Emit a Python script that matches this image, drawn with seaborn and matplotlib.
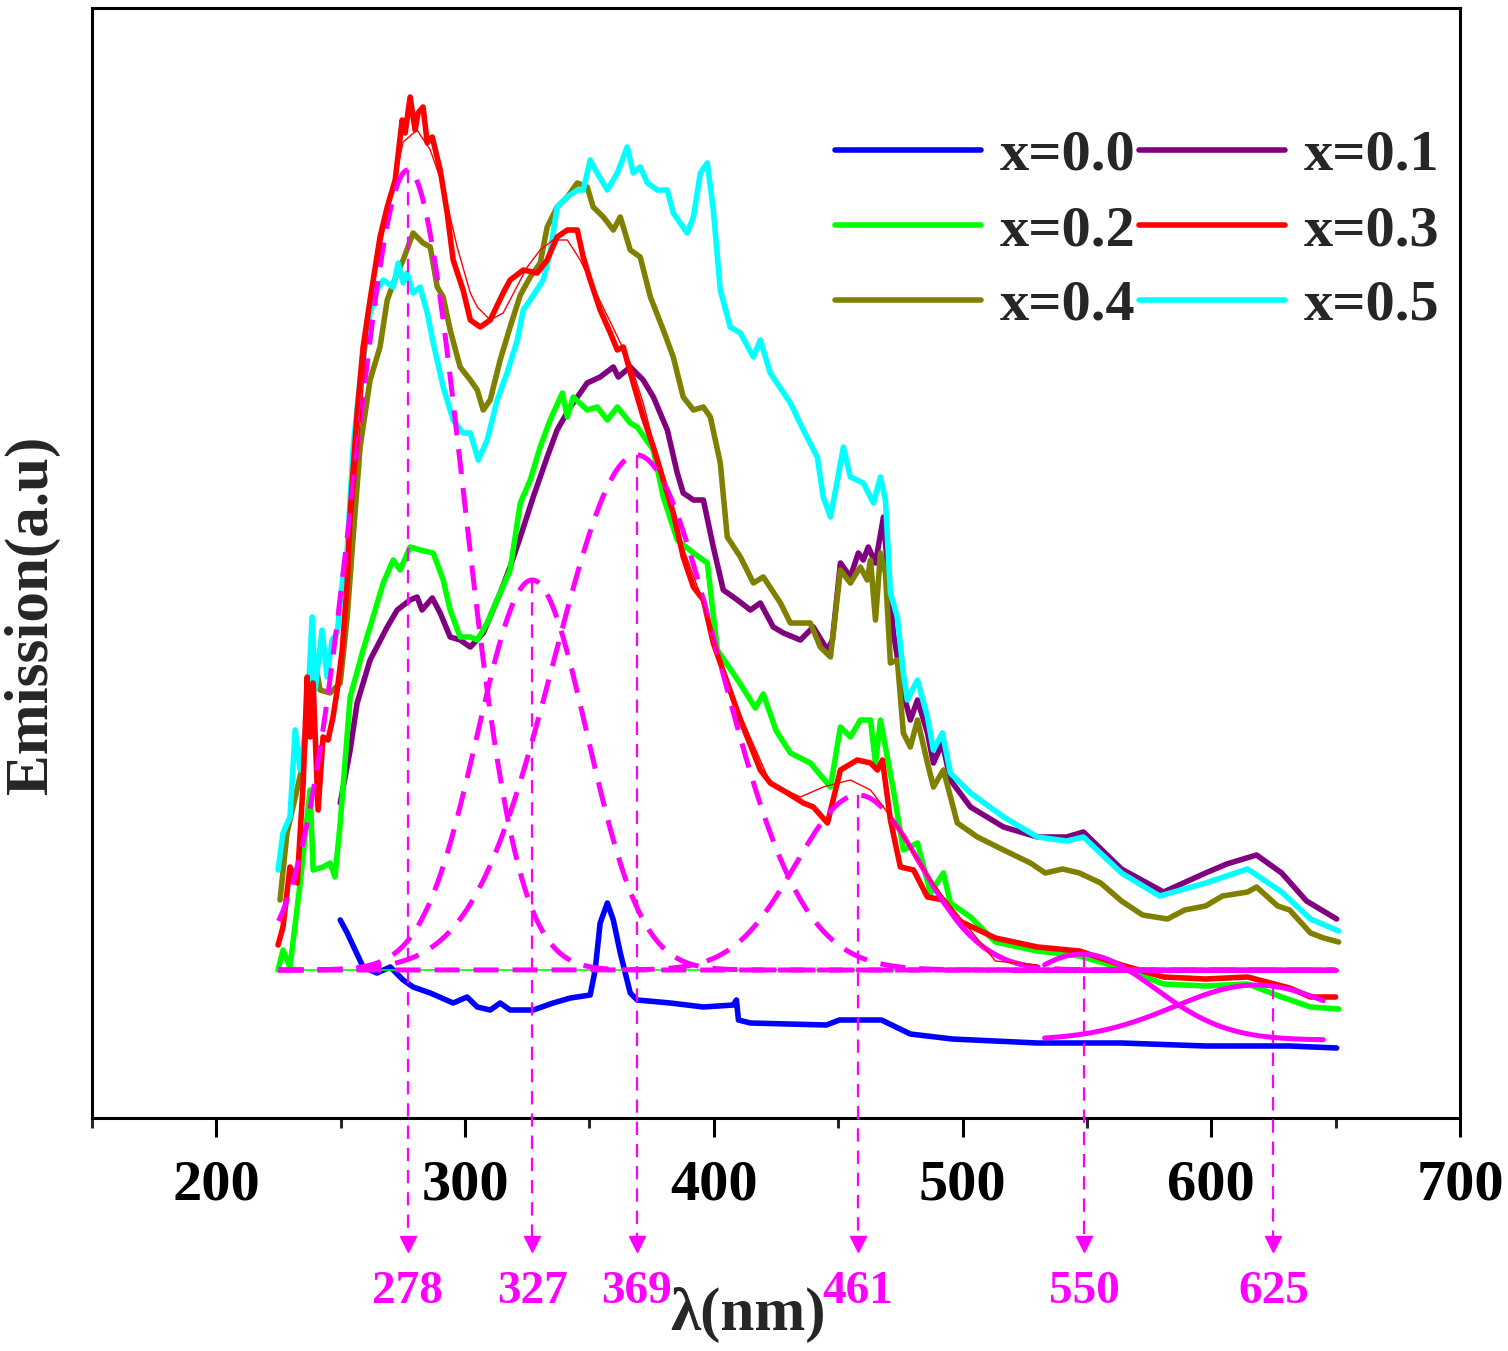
import numpy as np
import pandas as pd
import matplotlib
matplotlib.use("Agg")
import matplotlib.pyplot as plt
import seaborn as sns
from matplotlib.lines import Line2D
from matplotlib.ticker import MultipleLocator

# ---------------- data ----------------
wl_00 = [249.8, 252.6, 259.0, 264.6, 269.9, 275.1, 279.1, 286.0, 295.2, 300.8, 304.9, 310.1,
         314.1, 318.1, 327.4, 335.4, 342.3, 350.3, 352.3, 354.3, 357.2, 359.6, 362.4, 366.4,
         369.2, 382.5, 395.8, 407.8, 409.1, 409.9, 414.7, 445.3, 450.5, 467.4, 479.0, 495.9,
         530.1, 563.9, 597.7, 631.5, 650.4]
em_00 = [19.8, 18.5, 15.1, 14.5, 15.1, 13.8, 13.1, 12.5, 11.5, 12.1, 11.1, 10.8,
         11.5, 10.8, 10.8, 11.5, 12.0, 12.3, 14.8, 19.5, 21.5, 19.8, 16.5, 12.5,
         11.8, 11.5, 11.1, 11.3, 11.8, 9.8, 9.5, 9.3, 9.8, 9.8, 8.4, 7.9,
         7.5, 7.5, 7.2, 7.2, 7.0]

wl_01 = [249.8, 253.8, 256.6, 261.8, 268.7, 272.7, 277.9, 280.7, 282.7, 286.8, 290.0, 294.0,
         298.0, 302.1, 307.3, 314.1, 318.1, 322.2, 327.4, 333.0, 337.0, 342.3, 349.1, 354.3,
         359.6, 361.6, 366.4, 371.6, 375.7, 381.3, 385.3, 387.7, 391.8, 395.8, 399.8, 403.8,
         409.5, 414.7, 418.7, 423.9, 428.0, 434.8, 440.0, 445.7, 447.7, 450.9, 454.9, 458.1,
         460.1, 462.1, 465.0, 468.2, 469.8, 472.2, 476.2, 479.0, 481.9, 485.9, 488.3, 491.9,
         495.1, 503.2, 516.5, 530.1, 541.8, 548.6, 563.9, 580.8, 597.7, 606.2, 618.2, 628.3,
         638.3, 650.4]
em_01 = [31.5, 36.8, 41.5, 45.8, 49.1, 50.8, 51.8, 52.1, 50.8, 52.0, 50.5, 48.1,
         47.8, 47.1, 48.5, 52.5, 55.1, 58.1, 62.1, 66.1, 68.8, 71.1, 73.5, 74.1,
         75.1, 74.1, 75.1, 73.8, 72.1, 68.8, 64.5, 62.5, 61.8, 61.8, 57.1, 52.8,
         51.8, 50.8, 51.5, 49.1, 48.5, 47.8, 49.1, 46.8, 47.8, 55.5, 54.1, 56.5,
         55.8, 57.1, 55.5, 60.1, 55.1, 48.5, 42.5, 39.8, 41.8, 38.5, 35.5, 37.5,
         33.8, 31.1, 29.1, 28.1, 28.1, 28.6, 24.9, 22.6, 24.5, 25.4, 26.3, 24.5,
         21.7, 19.9]

wl_02 = [224.8, 226.8, 229.6, 233.7, 236.5, 237.7, 238.9, 242.9, 245.7, 247.7, 249.8, 253.8,
         259.0, 261.8, 267.1, 271.1, 273.9, 277.9, 281.9, 287.2, 291.2, 294.0, 298.0, 302.1,
         304.9, 308.9, 314.1, 318.1, 322.2, 326.2, 330.2, 334.2, 339.1, 341.1, 343.5, 349.1,
         353.1, 357.2, 361.2, 366.4, 369.2, 375.7, 379.7, 385.3, 391.8, 397.4, 401.4, 409.9,
         416.7, 419.9, 425.1, 430.8, 438.8, 446.9, 450.9, 454.9, 458.9, 463.0, 465.0, 467.0,
         472.2, 476.2, 481.9, 487.1, 492.3, 495.1, 503.2, 513.2, 530.1, 547.0, 563.9, 580.8,
         597.7, 614.6, 628.3, 639.9, 651.2]
em_02 = [14.8, 16.8, 15.1, 23.5, 30.1, 32.8, 24.8, 25.1, 25.5, 24.1, 29.5, 42.1,
         46.8, 49.1, 53.5, 55.8, 54.8, 57.1, 56.8, 56.5, 53.8, 50.8, 48.1, 48.1,
         47.8, 49.5, 52.5, 54.8, 61.5, 63.8, 67.1, 69.8, 72.5, 70.1, 72.1, 70.8,
         71.1, 69.8, 71.1, 69.5, 69.1, 66.8, 62.1, 57.8, 56.5, 55.5, 46.8, 43.7,
         41.0, 42.4, 38.7, 36.5, 35.5, 33.1, 39.1, 38.1, 39.8, 39.8, 35.5, 39.8,
         32.8, 26.8, 27.5, 22.5, 24.5, 21.5, 20.1, 17.6, 16.7, 16.2, 15.0, 13.4,
         13.2, 13.4, 12.1, 11.1, 10.9]

wl_03 = [224.8, 226.8, 229.6, 232.5, 234.9, 236.5, 237.7, 238.9, 240.9, 242.9, 244.9, 246.9,
         248.6, 250.6, 252.6, 253.8, 256.6, 259.0, 261.8, 265.8, 268.7, 271.9, 274.7, 275.9,
         277.9, 279.9, 281.1, 283.1, 284.8, 286.8, 290.0, 292.8, 295.2, 299.2, 302.1, 306.1,
         310.1, 315.3, 318.1, 323.4, 329.0, 333.0, 337.0, 341.1, 345.1, 347.5, 350.3, 354.3,
         358.4, 361.2, 363.6, 367.6, 371.6, 375.7, 379.7, 383.7, 387.7, 391.8, 395.8, 399.8,
         410.7, 418.7, 422.7, 429.6, 436.0, 440.0, 445.7, 450.9, 457.7, 463.0, 465.8, 467.8,
         471.0, 475.0, 480.3, 485.9, 492.3, 497.9, 513.2, 530.1, 547.0, 563.9, 580.8, 597.7,
         614.6, 631.5, 639.9, 650.0]
em_03 = [17.3, 19.1, 25.1, 23.5, 33.5, 44.1, 38.1, 43.5, 30.8, 38.1, 37.8, 40.1,
         42.8, 46.8, 53.5, 60.5, 70.5, 77.1, 81.8, 88.1, 91.1, 93.8, 99.8, 98.5,
         102.1, 98.8, 100.5, 101.1, 97.5, 98.1, 94.8, 90.5, 85.8, 82.8, 79.8, 79.1,
         79.8, 82.5, 83.8, 84.8, 84.5, 85.8, 88.1, 88.8, 88.8, 86.1, 83.8, 80.8,
         78.5, 76.8, 77.1, 73.5, 70.1, 67.1, 63.8, 60.5, 56.1, 53.1, 51.8, 47.5,
         39.8, 34.8, 33.5, 32.5, 31.5, 31.1, 29.5, 34.8, 35.8, 35.5, 34.8, 35.8,
         29.8, 25.1, 24.8, 22.1, 21.8, 19.8, 18.0, 17.1, 16.7, 15.3, 14.1, 13.9,
         14.1, 13.0, 12.1, 12.1]

wl_04 = [225.6, 228.4, 234.9, 238.9, 241.7, 245.7, 249.8, 252.6, 254.6, 257.8, 261.8, 265.8,
         268.7, 272.7, 275.1, 279.1, 283.1, 286.0, 288.8, 291.2, 294.0, 298.0, 302.1, 304.9,
         307.3, 310.1, 314.1, 318.1, 322.2, 326.2, 330.2, 333.0, 337.0, 341.1, 345.1, 349.1,
         351.5, 355.6, 359.6, 362.4, 366.4, 370.4, 374.5, 379.7, 383.7, 387.7, 391.8, 395.8,
         398.6, 402.6, 405.4, 410.7, 415.9, 419.9, 426.8, 430.8, 438.8, 442.8, 446.9, 450.9,
         454.9, 458.9, 461.7, 463.0, 465.0, 467.0, 469.0, 471.0, 473.8, 476.2, 479.0, 481.9,
         485.9, 488.3, 492.3, 497.9, 506.0, 516.5, 527.3, 533.3, 540.2, 547.0, 555.5, 563.9,
         572.4, 582.4, 589.3, 597.7, 604.5, 614.6, 618.2, 626.7, 631.5, 639.9, 645.2, 651.2]
em_04 = [21.8, 28.5, 35.5, 46.8, 42.8, 42.5, 43.5, 50.1, 56.8, 67.1, 73.8, 77.1,
         81.8, 84.5, 85.8, 88.5, 87.5, 87.1, 83.1, 82.1, 78.8, 75.1, 73.8, 72.8,
         70.8, 71.8, 75.8, 79.1, 82.3, 84.1, 85.5, 89.1, 91.1, 92.1, 93.5, 93.1,
         91.1, 90.1, 88.8, 90.1, 86.8, 86.1, 82.1, 78.8, 76.1, 72.1, 70.8, 71.1,
         70.1, 65.5, 58.1, 56.1, 53.5, 54.1, 51.5, 49.5, 49.5, 47.1, 46.1, 54.8,
         53.5, 55.1, 53.8, 55.8, 49.8, 56.5, 54.5, 45.5, 45.8, 38.5, 37.1, 39.8,
         35.5, 33.1, 34.8, 29.5, 28.1, 26.8, 25.5, 24.5, 24.9, 24.5, 23.5, 21.7,
         20.3, 19.9, 20.8, 21.2, 22.2, 22.6, 23.1, 21.2, 20.8, 18.5, 18.0, 17.6]

wl_05 = [224.8, 226.8, 229.6, 231.7, 233.7, 236.5, 238.5, 239.7, 242.5, 244.5, 246.5, 248.6,
         250.6, 252.6, 255.0, 257.8, 261.8, 264.6, 267.1, 271.1, 273.1, 275.1, 276.7, 279.1,
         281.9, 284.8, 287.2, 291.2, 295.2, 299.2, 302.1, 305.3, 308.9, 312.9, 316.9, 321.0,
         323.4, 326.2, 331.4, 334.2, 337.0, 341.1, 345.1, 347.5, 350.3, 353.1, 357.2, 361.2,
         365.2, 367.6, 370.4, 373.3, 377.3, 381.3, 383.7, 386.5, 389.3, 391.8, 394.6, 397.4,
         399.8, 402.6, 406.6, 410.7, 415.9, 418.7, 422.7, 430.8, 436.0, 441.6, 444.0, 446.9,
         449.7, 452.1, 454.9, 460.1, 464.2, 467.0, 469.0, 471.0, 473.8, 476.2, 477.8, 481.9,
         485.9, 488.3, 491.9, 495.1, 503.2, 516.5, 530.1, 541.8, 548.6, 563.9, 579.2, 597.7,
         614.6, 628.3, 639.9, 651.2]
em_05 = [24.8, 28.5, 30.1, 38.8, 34.8, 40.1, 50.1, 42.8, 48.8, 44.1, 47.8, 48.5,
         53.5, 56.8, 67.1, 73.8, 80.5, 82.8, 83.8, 83.1, 85.5, 83.5, 84.5, 82.5,
         83.1, 80.5, 77.5, 73.1, 69.8, 68.5, 68.5, 65.8, 67.8, 71.8, 74.5, 77.8,
         80.8, 81.8, 83.8, 86.5, 91.1, 92.1, 92.8, 92.8, 95.8, 94.5, 92.8, 94.5,
         97.1, 94.5, 95.1, 93.5, 92.8, 92.8, 90.5, 89.5, 88.5, 90.1, 94.5, 95.5,
         90.8, 82.8, 79.1, 78.5, 76.1, 77.8, 74.5, 71.5, 68.8, 66.1, 62.1, 60.1,
         63.8, 67.1, 64.1, 63.5, 61.5, 64.1, 61.8, 52.5, 50.1, 44.5, 41.8, 43.8,
         40.1, 36.8, 38.5, 34.5, 32.5, 30.1, 28.1, 27.7, 28.1, 24.5, 22.2, 23.5,
         24.9, 22.6, 19.9, 18.7]

# thin red cumulative fit of x=0.3
wl_fit = [254.6, 261.8, 269.9, 275.1, 280.7, 286.0, 291.2, 296.8, 302.1, 304.9, 310.1, 315.3,
          325.0, 330.2, 335.4, 341.1, 346.3, 351.5, 366.4, 371.6, 378.5, 386.5, 394.6, 399.8,
          410.7, 422.7, 434.8, 444.0, 454.9, 463.0, 468.2, 473.8, 480.3, 487.1, 492.3, 513.2,
          530.1]
em_fit = [59.8, 81.8, 91.8, 97.6, 98.8, 96.8, 93.1, 87.1, 82.5, 81.1, 79.8, 80.5,
          85.1, 86.8, 87.8, 87.8, 85.8, 83.1, 75.5, 71.5, 64.8, 57.8, 52.3, 47.8,
          40.3, 33.5, 32.1, 33.1, 33.8, 32.8, 31.1, 29.1, 26.5, 23.8, 22.1, 15.7,
          15.3]

samples = ["x=0.0", "x=0.1", "x=0.2", "x=0.3", "x=0.4", "x=0.5"]
colors = ["#0000FF", "#800080", "#00FF00", "#FF0000", "#808000", "#00FFFF"]

# Gaussian fit components (x=0.3 deconvolution)
fit_baseline = 14.8
fit_centers = [277, 327, 369, 458]
fit_amps = [80.0, 39.0, 51.5, 17.5]
fit_sigmas = [22.0, 22.0, 33.0, 25.0]
tail_baseline = 7.8
tail_centers = [548, 618]
tail_amps = [8.6, 5.5]
tail_sigmas = [29.0, 33.0]

peak_labels = ["278", "327", "369", "461", "550", "625"]
peak_pos = [277, 327, 369, 458, 549, 625]

# ---------------- style ----------------
sns.set_theme(style="white")
plt.rcParams['font.family'] = ['Liberation Serif', 'DejaVu Serif']
plt.rcParams['font.weight'] = 'bold'
plt.rcParams['axes.labelweight'] = 'bold'

fig = plt.figure(figsize=(15.08, 13.51), dpi=100)
ax = fig.add_axes([92/1508, 1-1118/1351, (1460-92)/1508, (1118-8)/1351])

wls = [wl_00, wl_01, wl_02, wl_03, wl_04, wl_05]
ems = [em_00, em_01, em_02, em_03, em_04, em_05]
frames = []
for s, w, e in zip(samples, wls, ems):
    frames.append(pd.DataFrame({"wavelength": w, "emission": e, "sample": s}))
df = pd.concat(frames, ignore_index=True)
palette = dict(zip(samples, colors))

draw_order = ["x=0.0", "x=0.1", "x=0.2", "x=0.4", "x=0.5", "x=0.3"]
sns.lineplot(data=df, x="wavelength", y="emission", hue="sample", hue_order=draw_order,
             palette=palette, estimator=None, sort=False, linewidth=4, legend=False, ax=ax)

grid = np.linspace(225, 650, 600)
mag = "#FF00FF"
# thin green baseline
ax.plot([225, 650], [fit_baseline, fit_baseline], color="#00FF00", lw=1.2, zorder=3)
# dashed gaussian components
comps = []
for c, a, s in zip(fit_centers, fit_amps, fit_sigmas):
    g = a * np.exp(-(grid - c) ** 2 / (2 * s ** 2))
    comps.append(g)
    ax.plot(grid, fit_baseline + g, color=mag, lw=3.6, dashes=(5, 2.8), zorder=4)
# solid right tail of 461 component
g4 = comps[3]
m = (grid >= 476) & (grid <= 530)
ax.plot(grid[m], fit_baseline + g4[m], color=mag, lw=3.6, zorder=4)
ax.plot([520, 650], [fit_baseline, fit_baseline], color=mag, lw=3.6, zorder=4)
# solid tail components
tgrid = np.linspace(533, 645, 200)
for c, a, s in zip(tail_centers, tail_amps, tail_sigmas):
    ax.plot(tgrid, tail_baseline + a * np.exp(-(tgrid - c) ** 2 / (2 * s ** 2)),
            color=mag, lw=3.6, zorder=4)
# thin red cumulative fit
sns.lineplot(x=wl_fit, y=em_fit, color="#FF0000", lw=1.0, sort=False, estimator=None,
             ax=ax, zorder=5)

# peak arrows
for lab, px in zip(peak_labels, peak_pos):
    if px in (549, 625):
        idx = 0 if px == 549 else 1
        top = tail_baseline + tail_amps[idx] * np.exp(-(px - tail_centers[idx]) ** 2 / (2 * tail_sigmas[idx] ** 2))
    else:
        idx = peak_pos.index(px)
        top = fit_baseline + fit_amps[idx] * np.exp(-(px - fit_centers[idx]) ** 2 / (2 * fit_sigmas[idx] ** 2))
    ax.plot([px, px], [top, -12.3], color=mag, lw=1.6, dashes=(6, 4), clip_on=False, zorder=6)
    ax.plot([px], [-12.6], marker="v", color=mag, markersize=11, clip_on=False, zorder=6)
    ax.text(px, -17.4, lab, color=mag, fontsize=34, fontweight="bold",
            ha="center", va="center", clip_on=False)

ax.set_xlim(150, 700)
ax.set_ylim(0, 111)
ax.set_yticks([])
ax.xaxis.set_major_locator(MultipleLocator(100))
ax.xaxis.set_minor_locator(MultipleLocator(50))
ax.tick_params(axis="x", which="major", direction="out", length=14, width=2.2,
               labelsize=42, pad=16, bottom=True, colors="black")
ax.tick_params(axis="x", which="minor", direction="out", length=7, width=2.2, bottom=True)
for lab in ax.get_xticklabels():
    lab.set_fontweight("bold")
for sp in ax.spines.values():
    sp.set_linewidth(2.2)
    sp.set_color("black")
ax.set_xlabel("")
ax.set_ylabel("")

fig.text(748/1508, 1-1315/1351, "λ(nm)", fontsize=44, fontweight="bold",
         ha="center", va="center")
fig.text(32/1508, 1-615/1351, "Emission(a.u)", fontsize=44, fontweight="bold",
         ha="center", va="center", rotation=90)

leg_order = ["x=0.0", "x=0.2", "x=0.4", "x=0.1", "x=0.3", "x=0.5"]
handles = [Line2D([0], [0], color=palette[s], lw=4) for s in leg_order]
fig.legend(handles, leg_order, loc="upper left", bbox_to_anchor=(806/1508, 1-100/1351),
           bbox_transform=fig.transFigure, ncol=2, frameon=False, borderpad=0,
           handlelength=2.5, handletextpad=0.33, columnspacing=0.05, labelspacing=0.38,
           prop={"size": 42, "weight": "bold"})

fig.savefig("out.png", dpi=100)
